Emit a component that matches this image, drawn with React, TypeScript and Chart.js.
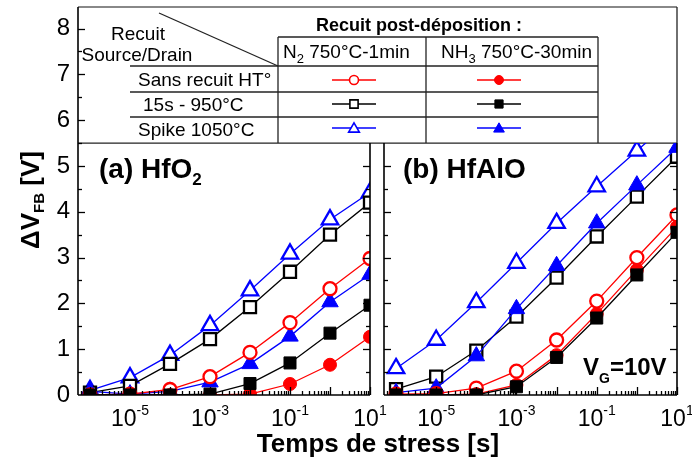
import React, { useEffect, useRef } from 'react';
import { Chart, registerables } from 'chart.js';
Chart.register(...registerables);

const FONT = "'Liberation Sans', Arial, Helvetica, sans-serif";

// ---- data ----
const stressTimes = [1e-6, 1e-5, 1e-4, 1e-3, 1e-2, 1e-1, 1, 10];
const xMinExp = -6.3;
const xMax = 10;
const xLabelExponents = [-5, -3, -1, 1];
const yTickValues = [0, 1, 2, 3, 4, 5, 6, 7, 8];
const yMaxFull = 8.47;
const panelTop = 5.5;

// (a) HfO2
const hfo2N2Sans = [0.0, 0.02, 0.12, 0.4, 0.93, 1.58, 2.32, 2.98];
const hfo2N2_950 = [0.05, 0.2, 0.68, 1.22, 1.92, 2.69, 3.5, 4.2];
const hfo2N2Spike = [0.1, 0.38, 0.87, 1.52, 2.28, 3.08, 3.83, 4.42];
const hfo2NH3Sans = [0.0, 0.0, 0.0, 0.0, 0.02, 0.24, 0.66, 1.27];
const hfo2NH3_950 = [0.0, 0.0, 0.0, 0.02, 0.25, 0.7, 1.35, 1.96];
const hfo2NH3Spike = [0.08, 0.02, 0.08, 0.28, 0.68, 1.28, 2.03, 2.63];

// (b) HfAlO
const hfaloN2Sans = [0.02, 0.03, 0.15, 0.52, 1.2, 2.05, 3.0, 3.93];
const hfaloN2_950 = [0.13, 0.4, 0.97, 1.71, 2.56, 3.46, 4.33, 5.2];
const hfaloN2Spike = [0.58, 1.2, 2.02, 2.88, 3.75, 4.55, 5.33, 6.1];
const hfaloNH3Sans = [0.0, 0.0, 0.02, 0.22, 0.87, 1.77, 2.73, 3.67];
const hfaloNH3_950 = [0.0, 0.0, 0.0, 0.18, 0.82, 1.68, 2.62, 3.55];
const hfaloNH3Spike = [0.05, 0.15, 0.85, 1.88, 2.82, 3.75, 4.58, 5.4];

const RED = '#ff0000';
const BLACK = '#000000';
const BLUE = '#0000ff';

type Shape = 'circle' | 'rect' | 'triangle';
type SeriesStyle = { color: string; shape: Shape; filled: boolean };

const styleNH3_950: SeriesStyle = { color: BLACK, shape: 'rect', filled: true };
const styleNH3Sans: SeriesStyle = { color: RED, shape: 'circle', filled: true };
const styleN2Sans: SeriesStyle = { color: RED, shape: 'circle', filled: false };
const styleNH3Spike: SeriesStyle = { color: BLUE, shape: 'triangle', filled: true };
const styleN2_950: SeriesStyle = { color: BLACK, shape: 'rect', filled: false };
const styleN2Spike: SeriesStyle = { color: BLUE, shape: 'triangle', filled: false };

function radiusFor(shape: Shape) {
  if (shape === 'circle') return 6.5;
  if (shape === 'rect') return 8.5;
  return 9.5;
}

function makeDataset(values: number[], s: SeriesStyle) {
  return {
    data: stressTimes.map((t, i) => ({ x: t, y: values[i] })),
    borderColor: s.color,
    backgroundColor: s.color,
    borderWidth: 1.3,
    pointStyle: s.shape,
    pointRadius: radiusFor(s.shape),
    pointBorderWidth: s.filled ? 1 : 2.3,
    pointBackgroundColor: s.filled ? s.color : '#ffffff',
    pointBorderColor: s.color,
    tension: 0,
    fill: false,
  };
}

function fontStr(size: number, bold?: boolean) {
  return `${bold ? 'bold ' : ''}${size}px ${FONT}`;
}

type Part = { t: string; size: number; bold?: boolean; dy?: number };
function drawRich(ctx: CanvasRenderingContext2D, parts: Part[], x: number, y: number, align: 'left' | 'center') {
  const widths = parts.map((p) => {
    ctx.font = fontStr(p.size, p.bold);
    return ctx.measureText(p.t).width;
  });
  const total = widths.reduce((a, b) => a + b, 0);
  let cx = align === 'center' ? x - total / 2 : x;
  ctx.textAlign = 'left';
  ctx.textBaseline = 'alphabetic';
  parts.forEach((p, i) => {
    ctx.font = fontStr(p.size, p.bold);
    ctx.fillText(p.t, cx, y + (p.dy || 0));
    cx += widths[i];
  });
}

function line(ctx: CanvasRenderingContext2D, x1: number, y1: number, x2: number, y2: number) {
  ctx.beginPath();
  ctx.moveTo(x1, y1);
  ctx.lineTo(x2, y2);
  ctx.stroke();
}

function drawMarker(ctx: CanvasRenderingContext2D, shape: Shape, x: number, y: number, r: number, color: string, filled: boolean) {
  ctx.beginPath();
  if (shape === 'circle') {
    ctx.arc(x, y, r, 0, Math.PI * 2);
  } else if (shape === 'rect') {
    const s = r * Math.SQRT1_2;
    ctx.rect(x - s, y - s, 2 * s, 2 * s);
  } else {
    ctx.moveTo(x, y - r);
    ctx.lineTo(x + 0.866 * r, y + 0.5 * r);
    ctx.lineTo(x - 0.866 * r, y + 0.5 * r);
    ctx.closePath();
  }
  ctx.fillStyle = filled ? color : '#ffffff';
  ctx.fill();
  ctx.strokeStyle = color;
  ctx.lineWidth = filled ? 1 : 1.6;
  ctx.stroke();
}

function drawLegendSample(ctx: CanvasRenderingContext2D, cx: number, cy: number, s: SeriesStyle) {
  ctx.strokeStyle = s.color;
  ctx.lineWidth = 1.4;
  line(ctx, cx - 22, cy, cx + 22, cy);
  const r = s.shape === 'circle' ? 4.5 : s.shape === 'rect' ? 5.8 : 6.2;
  drawMarker(ctx, s.shape, cx, cy + (s.shape === 'triangle' ? 1 : 0), r, s.color, s.filled);
}

function drawXTicksAndLabels(ctx: CanvasRenderingContext2D, chart: any) {
  const xs = chart.scales.x;
  const bottom = chart.chartArea.bottom;
  const lo = Math.pow(10, xMinExp);
  ctx.strokeStyle = '#000';
  ctx.lineWidth = 1.3;
  for (let d = -7; d <= 1; d++) {
    for (let m = 1; m <= 9; m++) {
      const v = m * Math.pow(10, d);
      if (v < lo * 0.999 || v > xMax * 1.001) continue;
      const px = Math.round(xs.getPixelForValue(v)) + 0.5;
      line(ctx, px, bottom, px, bottom - (m === 1 ? 8 : 4));
    }
  }
  ctx.fillStyle = '#000';
  xLabelExponents.forEach((e) => {
    const px = xs.getPixelForValue(Math.pow(10, e));
    drawRich(
      ctx,
      [
        { t: '10', size: 23 },
        { t: e < 0 ? '-' + Math.abs(e) : String(e), size: 14, dy: -11 },
      ],
      px,
      426,
      'center'
    );
  });
}

function drawYTicks(ctx: CanvasRenderingContext2D, ys: any, x: number, dir: number, maxVal: number) {
  ctx.strokeStyle = '#000';
  ctx.lineWidth = 1.3;
  yTickValues.forEach((v, i) => {
    if (v <= maxVal) {
      const py = Math.round(ys.getPixelForValue(v)) + 0.5;
      if (v > 0) line(ctx, x, py, x + dir * 7, py);
    }
    const mid = v + 0.5;
    if (i < yTickValues.length - 1 && mid <= maxVal) {
      const py = Math.round(ys.getPixelForValue(mid)) + 0.5;
      line(ctx, x, py, x + dir * 4, py);
    }
  });
}

const panelAPlugin = {
  id: 'panelA',
  afterDraw(chart: any) {
    const ctx: CanvasRenderingContext2D = chart.ctx;
    const { left, right, top, bottom } = chart.chartArea;
    const ys = chart.scales.y;
    const yPanelTop = ys.getPixelForValue(panelTop);
    ctx.save();

    // ---- legend table ----
    const tRight = 677;
    const colA = 278;
    const colB = 426;
    const colC = 598;
    const rowTitle = 37;
    const rowHead = 66;
    const row1 = 92;
    const row2 = 117;
    ctx.strokeStyle = '#888';
    ctx.lineWidth = 2;
    line(ctx, left, top, tRight, top);
    ctx.strokeStyle = '#222';
    ctx.lineWidth = 1.3;
    line(ctx, tRight, top, tRight, yPanelTop);
    line(ctx, left, yPanelTop, tRight, yPanelTop);
    line(ctx, colA, rowTitle, colC, rowTitle);
    [rowHead, row1, row2].forEach((yy) => line(ctx, 130, yy, colC, yy));
    [colA, colB, colC].forEach((xx) => line(ctx, xx, rowTitle, xx, yPanelTop));
    line(ctx, 159, 13, colA, rowHead);

    ctx.fillStyle = '#000';
    drawRich(ctx, [{ t: 'Recuit post-déposition :', size: 18, bold: true }], 419, 31, 'center');
    drawRich(ctx, [{ t: 'Recuit', size: 19 }], 138, 40, 'center');
    drawRich(ctx, [{ t: 'Source/Drain', size: 19 }], 137, 61, 'center');
    drawRich(ctx, [{ t: 'N', size: 19 }, { t: '2', size: 13, dy: 5 }, { t: ' 750°C-1min', size: 19 }], 283, 58, 'left');
    drawRich(ctx, [{ t: 'NH', size: 19 }, { t: '3', size: 13, dy: 5 }, { t: ' 750°C-30min', size: 19 }], 441, 58, 'left');
    drawRich(ctx, [{ t: 'Sans recuit HT°', size: 19 }], 138, 86, 'left');
    drawRich(ctx, [{ t: '15s - 950°C', size: 19 }], 143, 111, 'left');
    drawRich(ctx, [{ t: 'Spike 1050°C', size: 19 }], 138, 136, 'left');

    const c1 = 354;
    const c2 = 499;
    drawLegendSample(ctx, c1, 80, styleN2Sans);
    drawLegendSample(ctx, c2, 80, styleNH3Sans);
    drawLegendSample(ctx, c1, 104, styleN2_950);
    drawLegendSample(ctx, c2, 104, styleNH3_950);
    drawLegendSample(ctx, c1, 128, styleN2Spike);
    drawLegendSample(ctx, c2, 128, styleNH3Spike);

    // ---- frame ----
    ctx.strokeStyle = '#000';
    ctx.lineWidth = 1.6;
    line(ctx, left, top, left, bottom);
    line(ctx, left, bottom, right, bottom);
    line(ctx, right, yPanelTop, right, bottom);
    drawYTicks(ctx, ys, left, 1, 8);
    drawYTicks(ctx, ys, right, -1, 5);
    drawXTicksAndLabels(ctx, chart);

    // ---- titles ----
    ctx.fillStyle = '#000';
    drawRich(ctx, [{ t: '(a) HfO', size: 28, bold: true }, { t: '2', size: 17, bold: true, dy: 7 }], 99, 178, 'left');
    drawRich(ctx, [{ t: 'Temps de stress [s]', size: 26, bold: true }], 378, 452, 'center');
    ctx.save();
    ctx.translate(39, 200);
    ctx.rotate(-Math.PI / 2);
    drawRich(
      ctx,
      [
        { t: 'ΔV', size: 26, bold: true },
        { t: 'FB', size: 15, bold: true, dy: 5 },
        { t: ' [V]', size: 26, bold: true },
      ],
      0,
      0,
      'center'
    );
    ctx.restore();
    ctx.restore();
  },
};

const panelBPlugin = {
  id: 'panelB',
  afterDraw(chart: any) {
    const ctx: CanvasRenderingContext2D = chart.ctx;
    const { left, right, top, bottom } = chart.chartArea;
    const ys = chart.scales.y;
    ctx.save();
    ctx.strokeStyle = '#000';
    ctx.lineWidth = 1.6;
    line(ctx, left, top, left, bottom);
    line(ctx, right, top, right, bottom);
    line(ctx, left, bottom, right, bottom);
    drawYTicks(ctx, ys, left, 1, 5);
    drawYTicks(ctx, ys, right, -1, 5);
    drawXTicksAndLabels(ctx, chart);
    ctx.fillStyle = '#000';
    drawRich(ctx, [{ t: '(b) HfAlO', size: 28, bold: true }], 403, 178, 'left');
    drawRich(
      ctx,
      [
        { t: 'V', size: 24, bold: true },
        { t: 'G', size: 14, bold: true, dy: 8 },
        { t: '=10V', size: 24, bold: true },
      ],
      583,
      375,
      'left'
    );
    ctx.restore();
  },
};

function makeOptions(yMax: number, padding: any, yWidth: number, showYLabels: boolean) {
  return {
    responsive: false,
    animation: false as const,
    events: [] as any[],
    layout: { padding, autoPadding: false },
    plugins: { legend: { display: false }, tooltip: { enabled: false }, title: { display: false } },
    scales: {
      x: {
        type: 'logarithmic' as const,
        min: Math.pow(10, xMinExp),
        max: xMax,
        ticks: { display: false },
        grid: { display: false, drawTicks: false },
        border: { display: false },
        afterFit: (s: any) => {
          s.height = 69;
          s.paddingLeft = 0;
          s.paddingRight = 0;
        },
      },
      y: {
        type: 'linear' as const,
        min: 0,
        max: yMax,
        ticks: {
          display: showYLabels,
          font: { family: FONT, size: 24 },
          color: '#000',
          padding: 8,
        },
        afterBuildTicks: (s: any) => {
          s.ticks = yTickValues.filter((v) => v <= yMax).map((v) => ({ value: v }));
        },
        grid: { display: false, drawTicks: false },
        border: { display: false },
        afterFit: (s: any) => {
          s.width = yWidth;
          s.paddingTop = 0;
          s.paddingBottom = 0;
        },
      },
    },
  };
}

export default function App() {
  const refA = useRef<HTMLCanvasElement>(null);
  const refB = useRef<HTMLCanvasElement>(null);
  useEffect(() => {
    const chartA = new Chart(refA.current as HTMLCanvasElement, {
      type: 'line',
      data: {
        datasets: [
          makeDataset(hfo2NH3_950, styleNH3_950),
          makeDataset(hfo2NH3Sans, styleNH3Sans),
          makeDataset(hfo2N2Sans, styleN2Sans),
          makeDataset(hfo2NH3Spike, styleNH3Spike),
          makeDataset(hfo2N2_950, styleN2_950),
          makeDataset(hfo2N2Spike, styleN2Spike),
        ] as any,
      },
      options: makeOptions(yMaxFull, { left: 0, right: 322, top: 7, bottom: 0 }, 78, true) as any,
      plugins: [panelAPlugin],
    });
    const chartB = new Chart(refB.current as HTMLCanvasElement, {
      type: 'line',
      data: {
        datasets: [
          makeDataset(hfaloNH3_950, styleNH3_950),
          makeDataset(hfaloNH3Sans, styleNH3Sans),
          makeDataset(hfaloN2Sans, styleN2Sans),
          makeDataset(hfaloNH3Spike, styleNH3Spike),
          makeDataset(hfaloN2_950, styleN2_950),
          makeDataset(hfaloN2Spike, styleN2Spike),
        ] as any,
      },
      options: makeOptions(panelTop, { left: 384, right: 15, top: 143, bottom: 0 }, 0, false) as any,
      plugins: [panelBPlugin],
    });
    return () => {
      chartA.destroy();
      chartB.destroy();
    };
  }, []);
  const cs: React.CSSProperties = { position: 'absolute', left: 0, top: 0, width: 692, height: 464 };
  return (
    <div style={{ position: 'fixed', left: 0, top: 0, width: 692, height: 464, background: '#fff' }}>
      <canvas ref={refA} width={692} height={464} style={cs} />
      <canvas ref={refB} width={692} height={464} style={cs} />
    </div>
  );
}
